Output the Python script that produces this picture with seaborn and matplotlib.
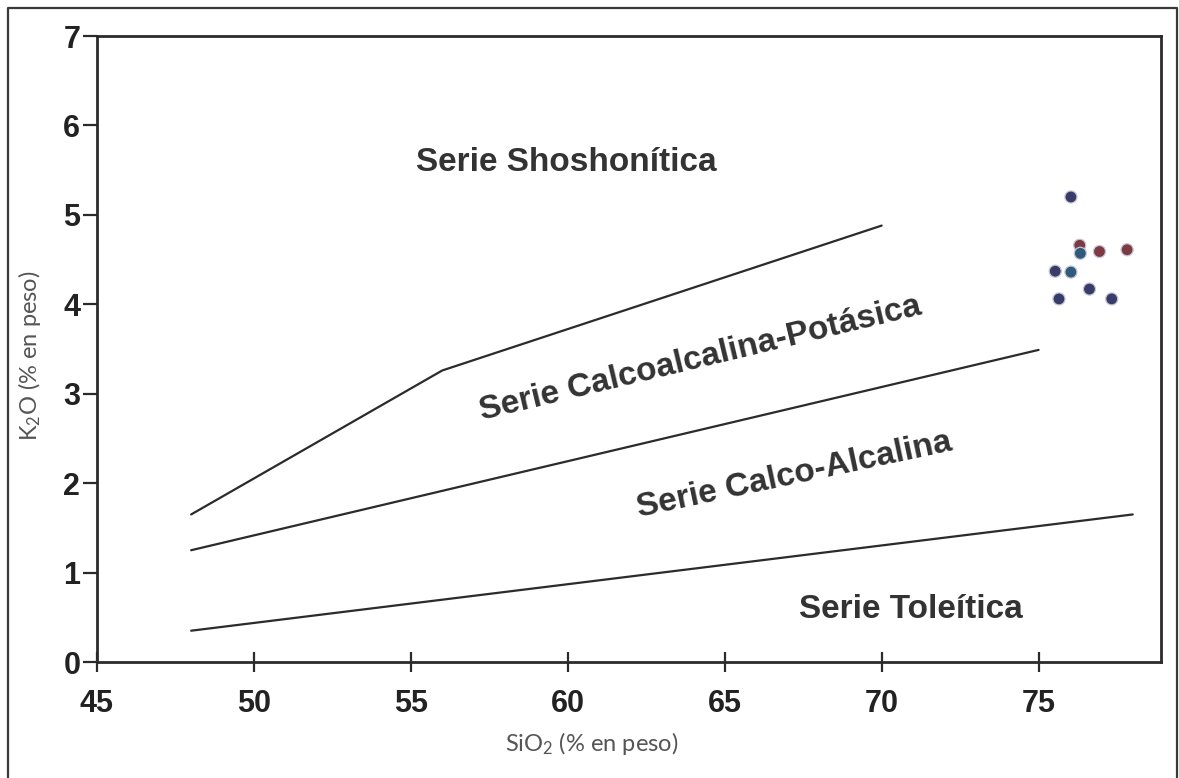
import matplotlib
matplotlib.use("Agg")
import matplotlib.pyplot as plt
from matplotlib.lines import Line2D
import seaborn as sns
import pandas as pd

# Boundary lines between magmatic series (SiO2 vs K2O)
sho_x = [48, 56, 70]
sho_y = [1.65, 3.26, 4.88]
hk_x = [48, 75]
hk_y = [1.25, 3.49]
tho_x = [48, 78]
tho_y = [0.35, 1.65]

# Samples
sio2 = [76.03, 76.31, 76.33, 76.94, 77.82, 75.53, 76.03, 76.62, 75.65, 77.33]
k2o = [5.20, 4.66, 4.57, 4.59, 4.61, 4.37, 4.36, 4.17, 4.06, 4.06]
grupo = ["A", "B", "C", "B", "B", "A", "C", "A", "A", "A"]
palette = {"A": "#383c68", "B": "#7e3a43", "C": "#2f5a7c"}

x_ticks = [45, 50, 55, 60, 65, 70, 75]
y_ticks = [0, 1, 2, 3, 4, 5, 6, 7]

# Series names with their placement
series_names = ["Serie Shoshonítica", "Serie Calcoalcalina-Potásica",
                "Serie Calco-Alcalina", "Serie Toleítica"]
name_x = [59.94, 64.24, 67.23, 70.92]
name_y = [5.58, 3.39, 2.09, 0.59]
name_rot = [0, 13.5, 12, 0]

sns.set_theme(style="white")
plt.rcParams["font.family"] = ["Liberation Sans", "DejaVu Sans"]
plt.rcParams["mathtext.fontset"] = "custom"
plt.rcParams["mathtext.rm"] = "Lato"
plt.rcParams["mathtext.it"] = "Lato"

W, H = 1179, 778
fig = plt.figure(figsize=(W / 100, H / 100), dpi=100)
ax = fig.add_axes([97 / W, 1 - 662 / H, (1161 - 97) / W, (662 - 36) / H])

line_kw = dict(color="#2b2b2b", linewidth=1.6, sort=False, estimator=None, ax=ax)
sns.lineplot(x=sho_x, y=sho_y, **line_kw)
sns.lineplot(x=hk_x, y=hk_y, **line_kw)
sns.lineplot(x=tho_x, y=tho_y, **line_kw)

df = pd.DataFrame({"SiO2": sio2, "K2O": k2o, "grupo": grupo})
sns.scatterplot(data=df, x="SiO2", y="K2O", hue="grupo", palette=palette,
                s=75, edgecolor="#c4c4d4", linewidth=0.9, legend=False, ax=ax,
                zorder=5)

for txt, tx, ty, rot in zip(series_names, name_x, name_y, name_rot):
    ax.text(tx, ty, txt, ha="center", va="center", rotation=rot,
            rotation_mode="anchor", fontsize=24, fontweight="bold",
            color="#333333")

ax.set_xlim(45, 78.9)
ax.set_ylim(0, 7)
ax.set_xticks(x_ticks)
ax.set_yticks(y_ticks)

tick_font = dict(family=["Liberation Sans", "DejaVu Sans"], weight="bold", size=22)
ax.set_xticklabels([str(v) for v in x_ticks], fontdict=tick_font, color="#222222")
ax.set_yticklabels([str(v) for v in y_ticks], fontdict=tick_font, color="#222222")

ax.tick_params(axis="x", direction="inout", length=15, width=1.6,
               color="#2b2b2b", pad=12, bottom=True)
ax.tick_params(axis="y", direction="out", length=10, width=1.6,
               color="#2b2b2b", pad=2, left=True)

for sp in ax.spines.values():
    sp.set_color("#2b2b2b")
    sp.set_linewidth(2.0)

lab_font = dict(family=["Lato", "DejaVu Sans"], size=17, color="#555555")
ax.set_xlabel(r"SiO$_2$ (% en peso)", **lab_font)
ax.set_ylabel(r"K$_2$O (% en peso)", **lab_font)
ax.xaxis.set_label_coords(0.465, -0.108)
ax.yaxis.set_label_coords(-0.051, 0.49)

# Outer frame around the figure (open at the bottom)
fx0, fx1, fy = 8 / W, 1177 / W, 1 - 8 / H
frame = Line2D([fx0, fx0, fx1, fx1], [0, fy, fy, 0], transform=fig.transFigure,
               color="#3a3a3a", linewidth=1.6)
fig.add_artist(frame)

fig.savefig("out.png", dpi=100, facecolor="white")
